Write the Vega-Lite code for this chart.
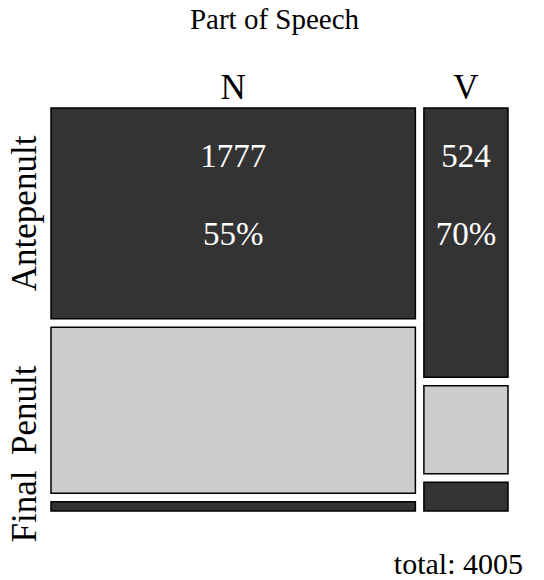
{
  "$schema": "https://vega.github.io/schema/vega-lite/v6.json",
  "width": 457,
  "height": 403,
  "autosize": {"type": "none"},
  "padding": {"left": 51, "top": 108, "right": 36, "bottom": 69},
  "background": "white",
  "config": {"view": {"stroke": null}},
  "data": {
    "values": [
      {"pos": "N", "stress": "Antepenult", "count": 1777},
      {"pos": "N", "stress": "Penult", "count": 1400},
      {"pos": "N", "stress": "Final", "count": 77},
      {"pos": "V", "stress": "Antepenult", "count": 524},
      {"pos": "V", "stress": "Penult", "count": 171},
      {"pos": "V", "stress": "Final", "count": 56}
    ]
  },
  "transform": [
    {"joinaggregate": [{"op": "sum", "field": "count", "as": "colTotal"}], "groupby": ["pos"]},
    {"calculate": "indexof(['Antepenult','Penult','Final'], datum.stress)", "as": "rowIdx"},
    {"stack": "count", "groupby": ["pos"], "sort": [{"field": "rowIdx", "order": "ascending"}], "offset": "normalize", "as": ["v0", "v1"]},
    {"window": [{"op": "sum", "field": "count", "as": "cum"}], "sort": [{"field": "pos"}], "frame": [null, 0]},
    {"window": [{"op": "dense_rank", "as": "colIdx"}], "sort": [{"field": "pos"}]},
    {"calculate": "datum.cum - datum.colTotal + (datum.colIdx - 1) * 76", "as": "x0"},
    {"calculate": "datum.cum + (datum.colIdx - 1) * 76", "as": "x1"},
    {"calculate": "(datum.x0 + datum.x1) / 2", "as": "xc"},
    {"calculate": "datum.v0 + datum.rowIdx * 0.022", "as": "y0"},
    {"calculate": "datum.v1 + datum.rowIdx * 0.022", "as": "y1"},
    {"calculate": "(datum.y0 + datum.y1) / 2", "as": "yc"},
    {"calculate": "datum.count / datum.colTotal", "as": "pct"}
  ],
  "layer": [
    {
      "mark": {"type": "rect", "stroke": "black", "strokeWidth": 1.5},
      "encoding": {
        "x": {"field": "x0", "type": "quantitative", "scale": {"domain": [0, 4081], "nice": false, "zero": false}, "axis": null},
        "x2": {"field": "x1"},
        "y": {"field": "y0", "type": "quantitative", "scale": {"domain": [0, 1.044], "nice": false, "zero": false, "reverse": true}, "axis": null},
        "y2": {"field": "y1"},
        "color": {"field": "stress", "type": "nominal", "scale": {"domain": ["Antepenult", "Penult", "Final"], "range": ["#333333", "#cccccc", "#333333"]}, "legend": null}
      }
    },
    {
      "transform": [{"filter": "datum.stress === 'Antepenult'"}],
      "mark": {"type": "text", "font": "Liberation Serif", "fontSize": 33, "fill": "white", "align": "center", "baseline": "alphabetic", "dy": 59},
      "encoding": {
        "x": {"field": "xc", "type": "quantitative"},
        "y": {"field": "y0", "type": "quantitative"},
        "text": {"field": "count", "type": "quantitative"}
      }
    },
    {
      "transform": [{"filter": "datum.stress === 'Antepenult'"}],
      "mark": {"type": "text", "font": "Liberation Serif", "fontSize": 33, "fill": "white", "align": "center", "baseline": "alphabetic", "dy": 137},
      "encoding": {
        "x": {"field": "xc", "type": "quantitative"},
        "y": {"field": "y0", "type": "quantitative"},
        "text": {"field": "pct", "type": "quantitative", "format": ".0%"}
      }
    },
    {
      "transform": [{"filter": "datum.stress === 'Antepenult'"}],
      "mark": {"type": "text", "font": "Liberation Serif", "fontSize": 35, "fill": "black", "align": "center", "baseline": "alphabetic", "dy": -9},
      "encoding": {
        "x": {"field": "xc", "type": "quantitative"},
        "y": {"field": "y0", "type": "quantitative"},
        "text": {"field": "pos", "type": "nominal"}
      }
    },
    {
      "transform": [{"filter": "datum.pos === 'N'"}],
      "mark": {"type": "text", "font": "Liberation Serif", "fontSize": 35, "fill": "black", "align": "center", "baseline": "alphabetic", "angle": 270, "dy": -15},
      "encoding": {
        "x": {"datum": 0, "type": "quantitative"},
        "y": {"field": "yc", "type": "quantitative"},
        "text": {"field": "stress", "type": "nominal"}
      }
    },
    {
      "transform": [
        {"aggregate": [{"op": "sum", "field": "count", "as": "total"}]},
        {"calculate": "'total: ' + datum.total", "as": "label"}
      ],
      "mark": {"type": "text", "font": "Liberation Serif", "fontSize": 30, "fill": "black", "align": "right", "baseline": "alphabetic", "dx": 15, "dy": 63},
      "encoding": {
        "x": {"datum": 4081, "type": "quantitative"},
        "y": {"datum": 1.044, "type": "quantitative"},
        "text": {"field": "label", "type": "nominal"}
      }
    },
    {
      "data": {"values": [{"title": "Part of Speech"}]},
      "mark": {"type": "text", "font": "Liberation Serif", "fontSize": 29, "fill": "black", "align": "center", "baseline": "alphabetic", "dx": -5, "dy": -79},
      "encoding": {
        "x": {"datum": 2040.5, "type": "quantitative"},
        "y": {"datum": 0, "type": "quantitative"},
        "text": {"field": "title", "type": "nominal"}
      }
    }
  ]
}
